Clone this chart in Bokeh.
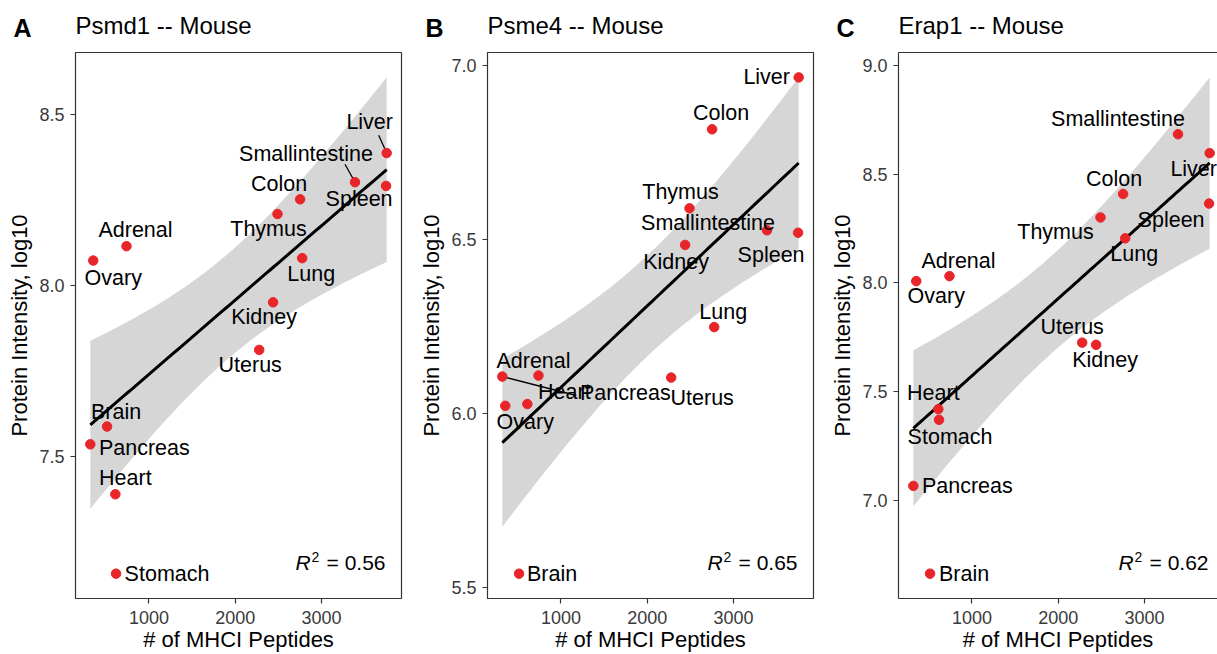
import numpy as np
from bokeh.plotting import figure
from bokeh.layouts import row, column
from bokeh.models import ColumnDataSource, Range1d, FixedTicker, NumeralTickFormatter, Label, LinearAxis
from bokeh.embed import file_html
from bokeh.resources import INLINE
from bokeh.core.properties import value

# ---------------- data ----------------
tissues = ["Liver", "Smallintestine", "Spleen", "Colon", "Thymus", "Adrenal", "Ovary",
           "Lung", "Kidney", "Uterus", "Brain", "Pancreas", "Heart", "Stomach"]
mhci_peptides = [3755, 3388, 3748, 2752, 2490, 740, 355, 2776, 2439, 2278, 515, 321, 611, 619]

psmd1 = [8.386, 8.301, 8.290, 8.251, 8.208, 8.114, 8.072, 8.079, 7.950, 7.811, 7.587, 7.535, 7.389, 7.157]
psme4 = [6.966, 6.527, 6.520, 6.817, 6.590, 6.110, 6.023, 6.249, 6.485, 6.104, 5.541, 6.107, 6.028, None]
erap1 = [8.597, 8.684, 8.365, 8.409, 8.301, 8.031, 8.008, 8.205, 7.715, 7.725, 6.662, 7.066, 7.419, 7.370]

r2_texts = ["0.56", "0.65", "0.62"]
panel_letters = ["A", "B", "C"]
panel_titles = ["Psmd1 -- Mouse", "Psme4 -- Mouse", "Erap1 -- Mouse"]
y_ticks = [[7.5, 8.0, 8.5], [5.5, 6.0, 6.5, 7.0], [7.0, 7.5, 8.0, 8.5, 9.0]]
x_ticks = [1000, 2000, 3000]
x_title = "# of MHCI Peptides"
y_title = "Protein Intensity, log10"

# t quantiles (0.975) for the 95% confidence band of lm
T975 = {11: 2.200985, 12: 2.178813}

# ---------------- layout (label placement in px, like ggrepel) ----------------
label_offsets = [
    {"Liver": (-17, -23), "Smallintestine": (-49, -20), "Spleen": (-27, 21), "Colon": (-21, -7),
     "Thymus": (-9, 23), "Adrenal": (9, -8), "Ovary": (20, 25), "Lung": (9, 24), "Kidney": (-9, 23),
     "Uterus": (-9, 23), "Brain": (9, -7), "Pancreas": (54, 12), "Heart": (10, -8), "Stomach": (51, 8)},
    {"Liver": (-32, 8), "Colon": (9, -8), "Thymus": (-9, -8), "Smallintestine": (-59, 1),
     "Kidney": (-9, 25), "Spleen": (-27, 30), "Lung": (9, -7), "Adrenal": (-5, -7),
     "Heart": (37, -4), "Pancreas": (123, 24), "Uterus": (31, 28), "Ovary": (20, 24), "Brain": (33, 8)},
    {"Smallintestine": (-60, -7), "Liver": (-16, 24), "Colon": (-9, -7), "Spleen": (-38, 24),
     "Thymus": (-45, 23), "Lung": (9, 24), "Adrenal": (9, -7), "Ovary": (20, 23), "Uterus": (-10, -8),
     "Kidney": (9, 23), "Heart": (-5, -8), "Stomach": (11, 25), "Pancreas": (54, 8), "Brain": (34, 8)},
]
LABEL_BASELINE_FIX = -8   # renderer places alphabetic text a bit low
segment_ends = [
    {"Liver": (-8, -18), "Smallintestine": (-10, -18)},
    {"Pancreas": (74, 19)},
    {},
]

FONT = "Liberation Sans"
FULL_FW = 326          # full (uncut) frame width in px
FRAME_H = 548
HEADER_H = 50
PANEL_H = 604
POINT_RED = "#E8262A"
AXIS_GREY = "#333333"

# panel geometry: (left border, visible frame width, right border)
geom = [(75, 326, 11), (75, 326, 11), (74, 319, 0)]


def fit(xs, ys):
    xs = np.asarray(xs, float)
    ys = np.asarray(ys, float)
    n = len(xs)
    b, a = np.polyfit(xs, ys, 1)
    xg = np.linspace(xs.min(), xs.max(), 80)
    yg = a + b * xg
    resid = ys - (a + b * xs)
    s = np.sqrt(np.sum(resid ** 2) / (n - 2))
    sxx = np.sum((xs - xs.mean()) ** 2)
    se = s * np.sqrt(1.0 / n + (xg - xs.mean()) ** 2 / sxx)
    t = T975[n - 2]
    return xg, yg, yg - t * se, yg + t * se


def make_panel(i, values, cut_right):
    left_border, frame_w, right_border = geom[i]
    names = [t for t, v in zip(tissues, values) if v is not None]
    xs = [x for x, v in zip(mhci_peptides, values) if v is not None]
    ys = [v for v in values if v is not None]
    xg, yg, lo, hi = fit(xs, ys)

    x0, x1 = min(xs), max(xs)
    xr = x1 - x0
    x_start = x0 - 0.05 * xr
    full_span = 1.1 * xr
    x_end = x_start + full_span * frame_w / FULL_FW
    ymin = min(min(ys), lo.min())
    ymax = max(max(ys), hi.max())
    yr = ymax - ymin
    y_start = ymin - 0.05 * yr
    y_end = ymax + 0.05 * yr

    p = figure(width=left_border + frame_w + right_border, height=PANEL_H,
               x_range=Range1d(x_start, x_end), y_range=Range1d(y_start, y_end),
               output_backend="svg", toolbar_location=None,
               min_border_left=left_border, min_border_right=right_border,
               min_border_top=2, min_border_bottom=54)
    p.background_fill_color = "white"
    p.border_fill_color = "white"
    p.grid.visible = False

    # confidence band + fit line
    p.varea(x=xg, y1=lo, y2=hi, fill_color="#999999", fill_alpha=0.4)
    p.line(xg, yg, line_color="black", line_width=3)

    # label segments (ggrepel-like)
    xscale = full_span / FULL_FW
    yscale = (y_end - y_start) / FRAME_H
    seg = segment_ends[i]
    sx0, sy0, sx1, sy1 = [], [], [], []
    for n_, x_, y_ in zip(names, xs, ys):
        if n_ in seg:
            dx, dy = seg[n_]
            sx0.append(x_); sy0.append(y_)
            sx1.append(x_ + dx * xscale); sy1.append(y_ - dy * yscale)
    if sx0:
        p.segment(sx0, sy0, sx1, sy1, line_color="black", line_width=1.3)

    # points
    p.scatter(xs, ys, size=9.5, fill_color=POINT_RED, line_color=POINT_RED)

    # labels
    offs = label_offsets[i]
    src = ColumnDataSource(dict(x=xs, y=ys, text=names,
                                dx=[offs[n_][0] for n_ in names],
                                dy=[offs[n_][1] + LABEL_BASELINE_FIX for n_ in names]))
    p.text(x="x", y="y", text="text", x_offset="dx", y_offset="dy", source=src,
           text_align="center", text_baseline="alphabetic",
           text_font=value(FONT), text_font_size=value("21.5px"), text_color="black")

    # axes
    for ax in p.xaxis + p.yaxis:
        ax.major_label_text_font = FONT
        ax.major_label_text_font_size = "18px"
        ax.major_label_text_color = "#3a3a3a"
        ax.major_tick_line_color = AXIS_GREY
        ax.major_tick_line_width = 1.2
        ax.major_tick_out = 5
        ax.major_tick_in = 0
        ax.minor_tick_line_color = None
        ax.axis_label_text_font = FONT
        ax.axis_label_text_font_size = "22px"
        ax.axis_label_text_font_style = "normal"
        ax.axis_label_text_color = "black"
    p.xaxis.ticker = FixedTicker(ticks=x_ticks)
    p.xaxis.formatter = NumeralTickFormatter(format="0")
    p.xaxis.major_label_standoff = 7
    p.xaxis.axis_label = x_title
    p.xaxis.axis_label_standoff = 0
    p.yaxis.ticker = FixedTicker(ticks=y_ticks[i])
    p.yaxis.formatter = NumeralTickFormatter(format="0.0")
    p.yaxis.major_label_standoff = 6
    p.yaxis.axis_label = y_title
    p.yaxis.axis_label_standoff = 4

    if cut_right:
        p.outline_line_color = None
        for ax in p.xaxis + p.yaxis:
            ax.axis_line_color = AXIS_GREY
            ax.axis_line_width = 1.2
        top = LinearAxis(major_tick_line_color=None, minor_tick_line_color=None,
                         major_label_text_font_size="0px", axis_line_color=AXIS_GREY,
                         axis_line_width=1.2)
        top.ticker = FixedTicker(ticks=[])
        p.add_layout(top, "above")
    else:
        p.outline_line_color = AXIS_GREY
        p.outline_line_width = 1.2
        for ax in p.xaxis + p.yaxis:
            ax.axis_line_color = None

    # R^2 annotation (inside the frame, bottom right)
    x_right = x_start + full_span
    p.add_layout(Label(x=x_right, y=y_start, text="R", x_offset=-106, y_offset=36,
                       text_align="left", text_baseline="alphabetic", text_font=FONT,
                       text_font_size="21px", text_font_style="italic", text_color="black"))
    p.add_layout(Label(x=x_right, y=y_start, text="2", x_offset=-90, y_offset=42,
                       text_align="left", text_baseline="alphabetic", text_font=FONT,
                       text_font_size="14px", text_color="black"))
    p.add_layout(Label(x=x_right, y=y_start, text="= " + r2_texts[i], x_offset=-16, y_offset=36,
                       text_align="right", text_baseline="alphabetic", text_font=FONT,
                       text_font_size="21px", text_color="black"))
    return p


pa = make_panel(0, psmd1, False)
pb = make_panel(1, psme4, False)
pc = make_panel(2, erap1, True)

# header strip with panel letters and titles
total_w = sum(g[0] + g[1] + g[2] for g in geom)
frame_lefts = []
acc = 0
for g in geom:
    frame_lefts.append(acc + g[0])
    acc += g[0] + g[1] + g[2]

header = figure(width=total_w, height=HEADER_H, x_range=Range1d(0, total_w),
                y_range=Range1d(HEADER_H, 0), output_backend="svg", toolbar_location=None,
                x_axis_type=None, y_axis_type=None, min_border=0)
header.outline_line_color = None
header.grid.visible = False
header.background_fill_color = "white"
header.border_fill_color = "white"
header.text(x=[fl - 62 for fl in frame_lefts], y=[27] * 3, text=panel_letters,
            text_align="left", text_baseline="alphabetic", text_font=value(FONT),
            text_font_size=value("25px"), text_font_style="bold", text_color="black")
header.text(x=frame_lefts, y=[25] * 3, text=panel_titles,
            text_align="left", text_baseline="alphabetic", text_font=value(FONT),
            text_font_size=value("24px"), text_color="black")

layout = column(header, row(pa, pb, pc))
open("out.html", "w").write(file_html(layout, INLINE))
